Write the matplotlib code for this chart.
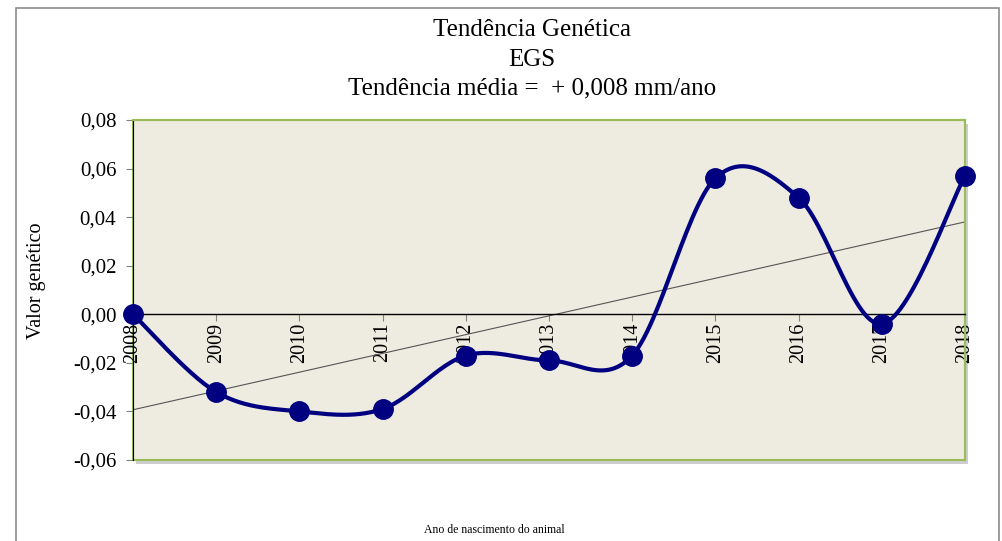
import numpy as np
import matplotlib.pyplot as plt
from matplotlib.patches import Rectangle

# data
anos = ["2008", "2009", "2010", "2011", "2012", "2013", "2014", "2015", "2016", "2017", "2018"]
valores = [0.000, -0.032, -0.040, -0.039, -0.017, -0.019, -0.017, 0.056, 0.048, -0.004, 0.057]
yticks = [-0.06, -0.04, -0.02, 0.00, 0.02, 0.04, 0.06, 0.08]
ytick_labels = ["-0,06", "-0,04", "-0,02", "0,00", "0,02", "0,04", "0,06", "0,08"]


def smooth(x, y, n=30):
    # Catmull-Rom style smoothing, like the Excel smoothed line
    x = np.asarray(x, float)
    y = np.asarray(y, float)
    px = np.concatenate([[x[0]], x, [x[-1]]])
    py = np.concatenate([[y[0]], y, [y[-1]]])
    xs, ys = [], []
    t = np.linspace(0, 1, n)
    for i in range(1, len(px) - 2):
        p0, p1, p2, p3 = [np.array([px[j], py[j]]) for j in (i - 1, i, i + 1, i + 2)]
        c1 = p1 + (p2 - p0) / 6
        c2 = p2 - (p3 - p1) / 6
        b = ((1 - t) ** 3)[:, None] * p1 + (3 * (1 - t) ** 2 * t)[:, None] * c1 \
            + (3 * (1 - t) * t ** 2)[:, None] * c2 + (t ** 3)[:, None] * p2
        xs.extend(b[:, 0])
        ys.extend(b[:, 1])
    return np.array(xs), np.array(ys)


plt.rcParams['font.family'] = ['Liberation Serif', 'DejaVu Serif']

fig = plt.figure(figsize=(10.02, 5.41), dpi=100)
ax = fig.add_axes([133 / 1002, 1 - 460 / 541, 832 / 1002, 340 / 541])
ax.set_zorder(2)

# outer chart border
fig.patches.append(Rectangle((16 / 1002, -0.1), 983 / 1002, 1 - 8 / 541 + 0.1,
                             transform=fig.transFigure, fill=False,
                             edgecolor="#8c8c8c", linewidth=1.2, zorder=0))
# shadow behind plot area
fig.patches.append(Rectangle((136 / 1002, 1 - 464 / 541), 832 / 1002, 340 / 541,
                             transform=fig.transFigure, facecolor="#b8b8b8",
                             edgecolor="none", alpha=0.7, zorder=1))

ax.set_facecolor("#EEECE1")
x = np.arange(len(anos))

sx, sy = smooth(x, valores)
ax.plot(sx, sy, color="#000080", linewidth=3, zorder=3, clip_on=False)
ax.plot(x, valores, linestyle="none", marker="o", markersize=14,
        color="#000080", zorder=4, clip_on=False)

# linear trend line
coef = np.polyfit(x, valores, 1)
ax.plot(x, np.polyval(coef, x), color="#555555", linewidth=0.8, zorder=2)

ax.set_xlim(0, len(anos) - 1)
ax.set_ylim(-0.06, 0.08)

for s in ["top", "right"]:
    ax.spines[s].set_color("#9BBB59")
    ax.spines[s].set_linewidth(1.5)
ax.add_patch(Rectangle((0, 0), 1, 1, transform=ax.transAxes, fill=False,
                       edgecolor="#9BBB59", linewidth=1.5, zorder=1, clip_on=False))
ax.spines["left"].set_color("black")
ax.spines["left"].set_zorder(2.5)
ax.spines["bottom"].set_position(("data", 0))
ax.spines["bottom"].set_color("black")
ax.spines["bottom"].set_linewidth(1)

ax.set_yticks(yticks)
ax.set_yticklabels(ytick_labels, fontsize=15)
ax.tick_params(axis="y", direction="out", length=5, color="#808080", pad=7)

ax.set_xticks(x)
ax.set_xticklabels(anos, rotation=90, fontsize=14.5, va="top")
ax.tick_params(axis="x", direction="out", length=5, color="#808080", pad=1)

fig.text(532 / 1002, 1 - 30 / 541, "Tendência Genética", ha="center", va="center", fontsize=18)
fig.text(532 / 1002, 1 - 60 / 541, "EGS", ha="center", va="center", fontsize=18)
fig.text(532 / 1002, 1 - 88 / 541, "Tendência média =  + 0,008 mm/ano", ha="center", va="center", fontsize=18)

fig.text(36 / 1002, 1 - 281 / 541, "Valor genético", rotation=90, ha="center", va="center", fontsize=14.5)
fig.text(494 / 1002, 1 - 530 / 541, "Ano de nascimento do animal", ha="center", va="center", fontsize=8.5)

fig.savefig("out.png", dpi=100)
